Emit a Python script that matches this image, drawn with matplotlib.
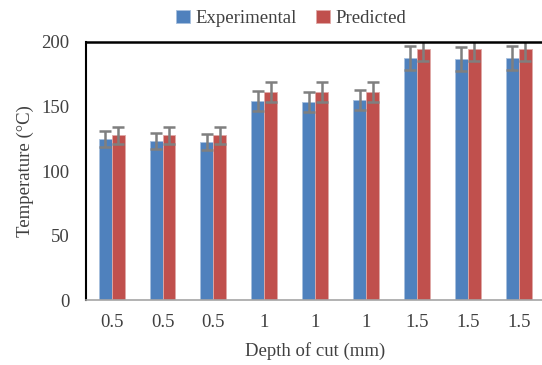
import numpy as np
import matplotlib.pyplot as plt

plt.rcParams['font.family'] = ['Liberation Serif', 'DejaVu Serif']

depth_labels = ["0.5", "0.5", "0.5", "1", "1", "1", "1.5", "1.5", "1.5"]
experimental = [124.6, 123.3, 122.5, 154.5, 153.5, 155.0, 187.6, 186.6, 187.6]
predicted = [127.7, 127.7, 127.7, 161.2, 161.2, 161.2, 194.6, 194.6, 194.6]
err_frac = 0.05

blue = "#4f81bd"
red = "#c0504d"
grey = "#7f7f7f"

fig = plt.figure(figsize=(5.42, 3.65), dpi=100)
ax = fig.add_axes([0.159, 0.178, 0.845, 0.707])

x = np.arange(len(depth_labels))
w = 0.255
exp_err = [v * err_frac for v in experimental]
pred_err = [v * err_frac for v in predicted]

ax.bar(x - w / 2, experimental, w, color=blue, edgecolor="#a7bfde", linewidth=0.6,
       label="Experimental")
ax.bar(x + w / 2, predicted, w, color=red, edgecolor="#e0a9a7", linewidth=0.6,
       label="Predicted")
ax.errorbar(x - w / 2, experimental, yerr=exp_err, fmt="none", ecolor=grey,
            elinewidth=1.8, capsize=4.5, capthick=1.8)
ax.errorbar(x + w / 2, predicted, yerr=pred_err, fmt="none", ecolor=grey,
            elinewidth=1.8, capsize=4.5, capthick=1.8)

ax.set_xlim(-0.5, len(depth_labels) - 0.5)
ax.set_ylim(0, 200)
ax.set_yticks([0, 50, 100, 150, 200])
ax.set_xticks(x)
ax.set_xticklabels(depth_labels)
ax.tick_params(length=0, labelsize=13.5, colors="#404040", pad=10)
ax.tick_params(axis="y", pad=12)

ax.spines["left"].set_color("black")
ax.spines["left"].set_linewidth(1.5)
ax.spines["top"].set_color("black")
ax.spines["top"].set_linewidth(1.8)
ax.spines["bottom"].set_color("#a6a6a6")
ax.spines["bottom"].set_linewidth(1.2)
ax.spines["right"].set_visible(False)

ax.set_xlabel("Depth of cut (mm)", fontsize=13.5, color="#404040", labelpad=8)
ax.set_ylabel("Temperature (°C)", fontsize=13.5, color="#404040", labelpad=5)

fig.legend(loc="upper center", bbox_to_anchor=(0.537, 1.02), ncol=2, frameon=False,
           fontsize=13.5, handlelength=0.75, handleheight=0.75, handletextpad=0.3,
           columnspacing=1.0, labelcolor="#404040")

fig.savefig("out.png", dpi=100)
